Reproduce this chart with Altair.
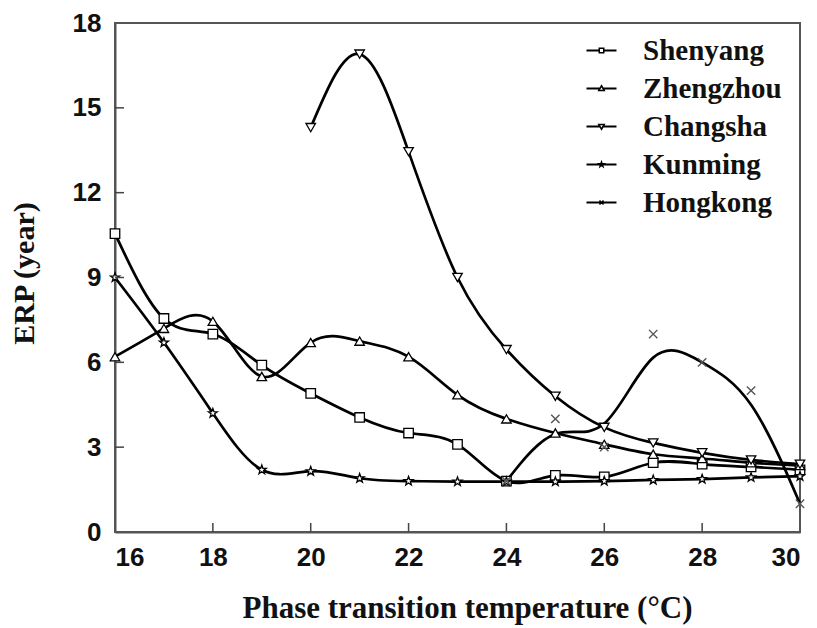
import altair as alt
import pandas as pd

# ---- data ----
temps = list(range(16, 31))
shenyang = [10.55, 7.55, 7.0, 5.9, 4.9, 4.05, 3.5, 3.1, 1.8, 2.0, 1.95, 2.45, 2.4, 2.3, 2.2]
zhengzhou = [6.2, 7.2, 7.45, 5.5, 6.7, 6.75, 6.2, 4.85, 4.0, 3.5, 3.1, 2.75, 2.6, 2.45, 2.35]
changsha_t = list(range(20, 31))
changsha = [14.3, 16.9, 13.45, 9.0, 6.45, 4.8, 3.7, 3.15, 2.8, 2.55, 2.4]
kunming = [9.0, 6.7, 4.2, 2.2, 2.15, 1.9, 1.8, 1.78, 1.78, 1.78, 1.8, 1.84, 1.87, 1.93, 1.97]
hongkong_t = list(range(24, 31))
hongkong = [1.8, 4.0, 3.0, 7.0, 6.0, 5.0, 1.0]

series_names = ["Shenyang", "Zhengzhou", "Changsha", "Kunming", "Hongkong"]
x_ticks = [18, 20, 22, 24, 26, 28]
y_ticks = [3, 6, 9, 12, 15]

rows = []
for name, xs, ys in [
    ("Shenyang", temps, shenyang),
    ("Zhengzhou", temps, zhengzhou),
    ("Changsha", changsha_t, changsha),
    ("Kunming", temps, kunming),
    ("Hongkong", hongkong_t, hongkong),
]:
    for a, b in zip(xs, ys):
        rows.append({"T": a, "ERP": b, "series": name})
df = pd.DataFrame(rows)

W, H = 685, 509

star = ("M0,-1L0.235,-0.324L0.951,-0.309L0.38,0.124L0.588,0.809L0,0.4"
        "L-0.588,0.809L-0.38,0.124L-0.951,-0.309L-0.235,-0.324Z")
xmark = "M-1,-1L1,1M-1,1L1,-1"
plot_shapes = ["square", "triangle-up", "triangle-down", star, xmark]


def seg(a, b):
    # thin bar used as the legend's line segment
    return f"M{a},-0.07L{b},-0.07L{b},0.07L{a},0.07Z"


# legend glyphs: line segment with the series marker in the middle
legend_shapes = [
    seg(-1.45, 0.95) + seg(1.85, 4.25) + "M0.95,-0.45L1.85,-0.45L1.85,0.45L0.95,0.45Z",
    seg(-1.45, 1.05) + seg(1.75, 4.25) + "M1.4,-0.55L1.95,0.4L0.85,0.4Z",
    seg(-1.45, 1.05) + seg(1.75, 4.25) + "M1.4,0.55L1.95,-0.4L0.85,-0.4Z",
    seg(-1.45, 0.95) + seg(1.85, 4.25)
    + "M1.4,-0.5L1.518,-0.162L1.876,-0.155L1.59,0.062L1.694,0.405"
    "L1.4,0.2L1.106,0.405L1.21,0.062L0.924,-0.155L1.282,-0.162Z",
    seg(-1.45, 4.25) + "M1.0,-0.4L1.8,0.4M1.0,0.4L1.8,-0.4",
]

xscale = alt.Scale(domain=[16, 30], nice=False)
yscale = alt.Scale(domain=[0, 18], nice=False)

x_enc = alt.X("T:Q", scale=xscale, axis=alt.Axis(
    values=[16, 18, 20, 22, 24, 26, 28, 30], format="d", tickSize=0,
    labelPadding=12, title="Phase transition temperature (°C)",
    titleX=352, titleY=76, titleAlign="center", titleBaseline="middle",
    titleFont="Liberation Serif", titleFontSize=31, titleFontWeight="bold",
))
y_enc = alt.Y("ERP:Q", scale=yscale, axis=alt.Axis(
    values=[0, 3, 6, 9, 12, 15, 18], format="d", tickSize=0,
    labelPadding=14, title="ERP (year)",
    titleX=-91, titleY=250, titleAngle=270, titleAlign="center", titleBaseline="middle",
    titleFont="Liberation Serif", titleFontSize=30, titleFontWeight="bold",
))

base = alt.Chart(df)

lines = base.transform_filter(alt.datum.series != "Hongkong").mark_line(
    interpolate="natural", color="black", strokeWidth=2.7
).encode(x=x_enc, y=y_enc, detail="series:N")

hk_line = base.transform_filter(alt.datum.series == "Hongkong").mark_line(
    interpolate="basis", color="black", strokeWidth=2.7
).encode(x="T:Q", y="ERP:Q")

points = base.transform_filter(alt.datum.series != "Hongkong").mark_point(
    fill="white", stroke="black", strokeWidth=1.3, size=90, opacity=1
).encode(
    x="T:Q", y="ERP:Q",
    shape=alt.Shape("series:N", scale=alt.Scale(domain=series_names, range=plot_shapes), legend=None),
)

hk_points = base.transform_filter(alt.datum.series == "Hongkong").mark_point(
    shape=xmark, stroke="#555", strokeWidth=1.4, size=70, opacity=1, filled=False
).encode(x="T:Q", y="ERP:Q")

# legend source layer: its own marks sit above the y domain and are clipped away
legend_layer = base.transform_filter(alt.datum.T == 30).transform_calculate(
    off="1000"
).mark_point(
    fill="white", stroke="black", strokeWidth=2.2, size=400, opacity=1, clip=True
).encode(
    x="T:Q", y="off:Q",
    shape=alt.Shape("series:N", scale=alt.Scale(domain=series_names, range=legend_shapes),
                    legend=alt.Legend(
                        title=None, orient="none", legendX=465, legendY=13,
                        labelFont="Liberation Serif", labelFontSize=29, labelFontWeight="bold",
                        labelColor="#111", labelOffset=34, rowPadding=8, padding=0,
                    )),
)

xt = alt.Chart(pd.DataFrame({"t": x_ticks})).mark_rule(color="#444", strokeWidth=1.5).encode(
    x="t:Q", y=alt.value(H), y2=alt.value(H - 9))
yt = alt.Chart(pd.DataFrame({"t": y_ticks})).mark_rule(color="#444", strokeWidth=1.5).encode(
    y="t:Q", x=alt.value(0), x2=alt.value(9))

chart = alt.layer(lines, hk_line, points, hk_points, legend_layer, xt, yt).resolve_scale(
    shape="independent"
).properties(
    width=W, height=H, autosize="none", background="white",
    padding={"left": 115, "top": 23, "right": 17, "bottom": 96},
).configure_view(
    stroke="#555", strokeWidth=2
).configure_axis(
    domainColor="#555", domainWidth=2, grid=False,
    labelFont="Liberation Sans", labelFontSize=26, labelFontWeight="bold", labelColor="#111",
    titleColor="#111",
)

chart.save("out.html", embed_options={"renderer": "svg", "actions": False})
